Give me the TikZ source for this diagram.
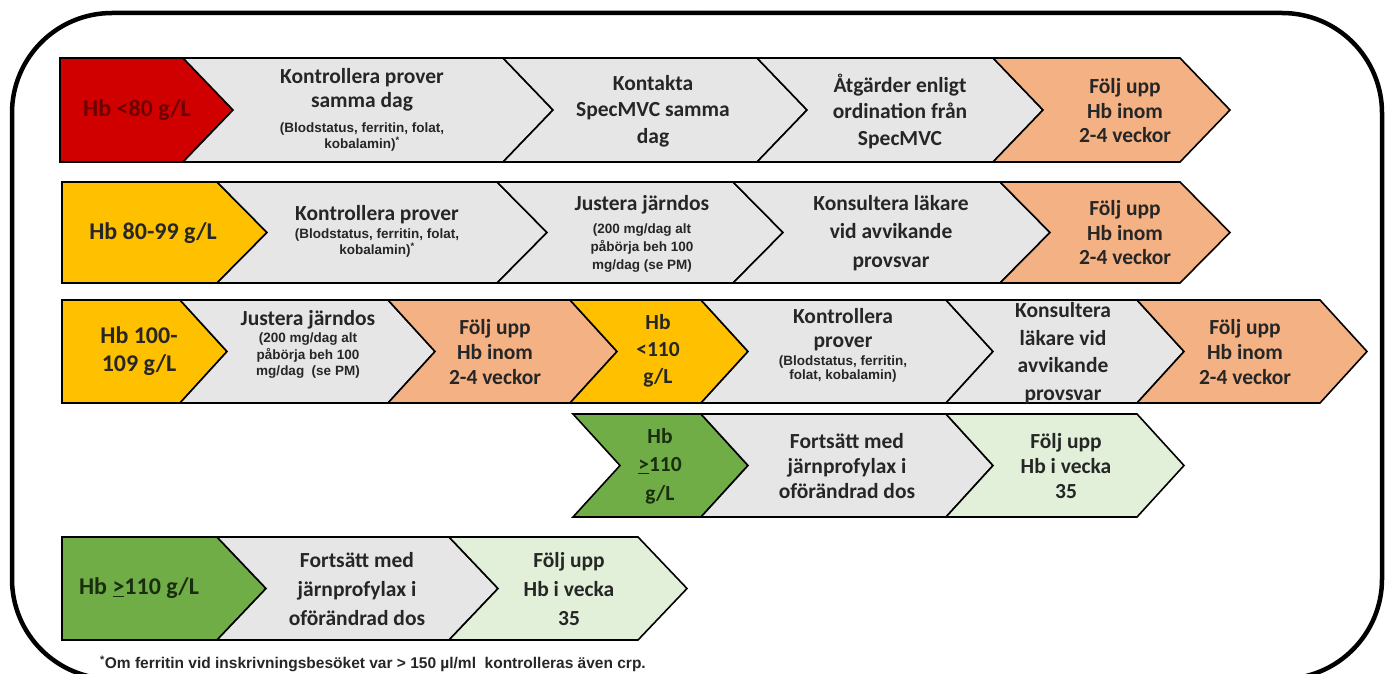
\documentclass[tikz,border=0pt]{standalone}
\usepackage{fontspec}
\setmainfont{Carlito}
\newfontfamily\arialf{Liberation Sans}
\definecolor{redF}{RGB}{208,0,0}
\definecolor{redT}{RGB}{110,0,0}
\definecolor{yelF}{RGB}{255,192,0}
\definecolor{grayF}{RGB}{230,230,230}
\definecolor{orgF}{RGB}{244,177,131}
\definecolor{grnF}{RGB}{112,173,71}
\definecolor{lgrnF}{RGB}{226,240,217}
\definecolor{txt}{RGB}{38,38,38}
\definecolor{grnT}{RGB}{25,45,15}
\newcommand\lblfont{\fontsize{24}{28}\selectfont\bfseries}
\newcommand\bodyfont[1]{\fontsize{21.5}{#1}\selectfont\bfseries}
\newcommand\smallfont[1]{\arialf\fontsize{13.5}{#1}\selectfont\bfseries}
% flat-left chevron: fill, xleft, xright, ytop, ybottom, depth
\newcommand\chevF[6]{\filldraw[chev,fill=#1] (#2,#4) -- (#3,#4) -- ({#3+#6},{(#4+#5)/2}) -- (#3,#5) -- (#2,#5) -- cycle;}
% notched chevron
\newcommand\chevN[6]{\filldraw[chev,fill=#1] (#2,#4) -- (#3,#4) -- ({#3+#6},{(#4+#5)/2}) -- (#3,#5) -- (#2,#5) -- ({#2+#6},{(#4+#5)/2}) -- cycle;}
\tikzset{
  chev/.style={draw=black, line width=1.6, line join=miter},
  lbl/.style={font=\lblfont, align=center, inner sep=0, text=txt},
  body/.style={font=\bodyfont{#1}, align=center, inner sep=0, text=txt},
  sml/.style={font=\smallfont{#1}, align=center, inner sep=0, text=txt},
  frame/.style={draw=black, line width=4.5},
}
\begin{document}
\begin{tikzpicture}[x=1pt,y=-1pt]
\useasboundingbox (0,0) rectangle (1389,674);
\fill[white] (0,0) rectangle (1389,674);
% outer frame
\draw[frame, rounded corners=100] (700,13) -- (1382,13) -- (1382,679) -- (700,679);
\draw[frame, rounded corners=100] (700,13) -- (12,13) -- (12,679) -- (700,679);

% Row 1
\chevF{redF}{60}{183}{58}{162}{50}
\chevN{grayF}{183}{503}{58}{162}{50}
\chevN{grayF}{503}{757}{58}{162}{50}
\chevN{grayF}{757}{993}{58}{162}{50}
\chevN{orgF}{993}{1180}{58}{162}{50}
\node[lbl,text=redT] (t11) at (137,110) {Hb <80 g/L};
\node[body={23.5}] (t12) at (362,90) {Kontrollera prover\\samma dag};
\node[sml={16}] (t12s) at (362,137) {(Blodstatus, ferritin, folat,\\kobalamin)\textsuperscript{*}};
\node[body={26.5}] (t13) at (653,111) {Kontakta\\SpecMVC samma\\dag};
\node[body={26.5}] (t14) at (900,111) {Åtgärder enligt\\ordination från\\SpecMVC};
\node[body={24.5}] (t15) at (1125,111) {Följ upp\\Hb inom\\2-4 veckor};

% Row 2
\chevF{yelF}{62}{217}{182}{283}{50}
\chevN{grayF}{217}{497}{182}{283}{50}
\chevN{grayF}{497}{733}{182}{283}{50}
\chevN{grayF}{733}{1000}{182}{283}{50}
\chevN{orgF}{1000}{1180}{182}{283}{50}
\node[lbl] (t21) at (153,233) {Hb 80-99 g/L};
\node[body={24}] (t22) at (377,215) {Kontrollera prover};
\node[sml={15.5}] (t22s) at (377,243) {(Blodstatus, ferritin, folat,\\kobalamin)\textsuperscript{*}};
\node[body={24}] (t23) at (642,205) {Justera järndos};
\node[sml={18}] (t23s) at (642,248) {(200 mg/dag alt\\påbörja beh 100\\mg/dag (se PM)};
\node[body={28.5}] (t24) at (891,233) {Konsultera läkare\\vid avvikande\\provsvar};
\node[body={24.5}] (t25) at (1125,233) {Följ upp\\Hb inom\\2-4 veckor};

% Row 3
\chevF{yelF}{62}{180}{300}{403}{47}
\chevN{grayF}{180}{388}{300}{403}{47}
\chevN{orgF}{388}{570}{300}{403}{47}
\chevN{yelF}{570}{701}{300}{403}{47}
\chevN{grayF}{701}{946}{300}{403}{47}
\chevN{grayF}{946}{1137}{300}{403}{47}
\chevN{orgF}{1137}{1320}{300}{403}{47}
\node[lbl] (t31) at (139,351) {Hb 100-\\109 g/L};
\node[body={24}] (t32) at (308,320) {Justera järndos};
\node[sml={16.5}] (t32s) at (308,356) {(200 mg/dag alt\\påbörja beh 100\\mg/dag~~(se PM)};
\node[body={25}] (t33) at (495,352) {Följ upp\\Hb inom\\2-4 veckor};
\node[body={27}] (t34) at (658,351) {Hb\\<110\\g/L};
\node[body={24}] (t35) at (843,330) {Kontrollera\\prover};
\node[sml={14}] (t35s) at (843,369) {(Blodstatus, ferritin,\\folat, kobalamin)};
\node[body={27.5}] (t36) at (1063,353) {Konsultera\\läkare vid\\avvikande\\provsvar};
\node[body={25}] (t37) at (1245,352) {Följ upp\\Hb inom\\2-4 veckor};

% Row 4
\chevN{grnF}{573}{701}{414}{517}{47}
\chevN{grayF}{701}{946}{414}{517}{47}
\chevN{lgrnF}{946}{1137}{414}{517}{47}
\node[body={28.5},text=grnT] (t41) at (660,466) {Hb\\\underline{>}110\\g/L};
\node[body={25}] (t42) at (847,466) {Fortsätt med\\järnprofylax i\\oförändrad dos};
\node[body={25}] (t43) at (1066,466) {Följ upp\\Hb i vecka\\35};

% Row 5
\chevF{grnF}{62}{217}{537}{640}{49}
\chevN{grayF}{217}{449}{537}{640}{49}
\chevN{lgrnF}{449}{638}{537}{640}{49}
\node[lbl,text=grnT] (t51) at (139,588) {Hb \underline{>}110 g/L};
\node[body={29}] (t52) at (357,589) {Fortsätt med\\järnprofylax i\\oförändrad dos};
\node[body={29}] (t53) at (569,589) {Följ upp\\Hb i vecka\\35};

% footnote
\node[anchor=west, inner sep=0, text=txt, font=\arialf\fontsize{15.5}{17}\selectfont\bfseries] (fn) at (100,664) {\textsuperscript{*}Om ferritin vid inskrivningsbesöket var > 150 µl/ml~~kontrolleras även crp.};
\end{tikzpicture}
\end{document}
